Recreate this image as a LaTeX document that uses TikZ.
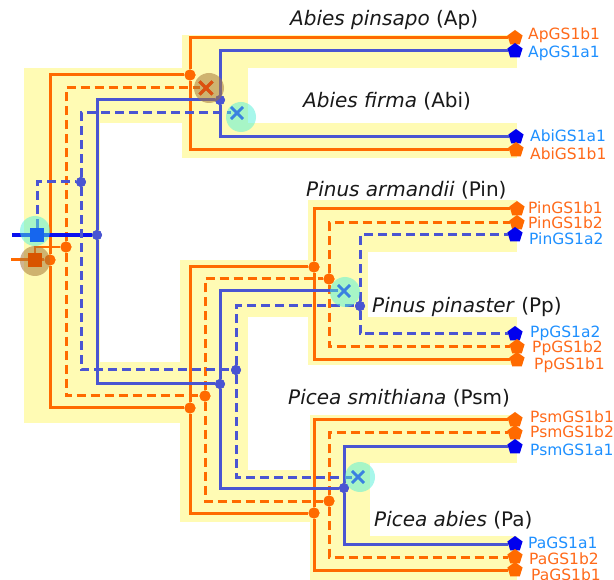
\documentclass[tikz,border=0pt]{standalone}
\usepackage{fontspec}
\setmainfont{DejaVu Sans}
\usetikzlibrary{shapes.geometric,shapes.misc}
\definecolor{tubey}{HTML}{FFFBB4}
\definecolor{orng}{HTML}{FF6A00}
\definecolor{blu}{HTML}{4A55D2}
\definecolor{olabc}{HTML}{FF6A1A}
\definecolor{blabc}{HTML}{1E90FF}
\definecolor{bleafc}{HTML}{0000EE}
\definecolor{rootblue}{HTML}{0A10EE}
\definecolor{sqblue}{HTML}{1666EE}
\definecolor{sqorng}{HTML}{D85400}
\definecolor{halob}{HTML}{A87838}
\definecolor{haloc}{HTML}{50F0D8}
\definecolor{xblue}{HTML}{3C80E0}
\definecolor{xorng}{HTML}{DD5010}
\tikzset{
  tube/.style={fill=tubey, draw=none},
  osolid/.style={draw=orng, line width=3pt},
  odash/.style={osolid, dash pattern=on 9pt off 5pt},
  bsolid/.style={draw=blu, line width=3pt},
  bdash/.style={bsolid, dash pattern=on 9pt off 5pt},
  odot/.style={circle, fill=orng, inner sep=0pt, minimum size=11pt},
  bdot/.style={circle, fill=blu, inner sep=0pt, minimum size=10pt},
  oleaf/.style={regular polygon, regular polygon sides=5, fill=orng, inner sep=0pt, minimum size=16pt},
  bleaf/.style={regular polygon, regular polygon sides=5, fill=bleafc, inner sep=0pt, minimum size=16pt},
  oloss/.style={cross out, draw=xorng, line width=3pt, inner sep=0pt, minimum size=10pt},
  bloss/.style={cross out, draw=xblue, line width=2.8pt, inner sep=0pt, minimum size=9pt},
  ohalo/.style={fill=halob, opacity=.55},
  chalo/.style={fill=haloc, opacity=.5},
  olabel/.style={text=olabc, font=\fontsize{15.5}{18}\selectfont, anchor=west, inner sep=0pt},
  blabel/.style={text=blabc, font=\fontsize{15.5}{18}\selectfont, anchor=west, inner sep=0pt},
  spec/.style={text=black!90, font=\fontsize{20}{24}\selectfont, anchor=west, inner sep=0pt},
  osquare/.style={rectangle, fill=sqorng, inner sep=0pt, minimum size=14pt},
  bsquare/.style={rectangle, fill=sqblue, inner sep=0pt, minimum size=14pt}
}
\begin{document}
\begin{tikzpicture}[x=1pt,y=-1pt]
\useasboundingbox[fill=white] (0,0) rectangle (614,580);
% species tree tubes
\fill[tube] (24,68) rectangle (100,423);
\fill[tube] (99,68) rectangle (183,123);
\fill[tube] (182,35) rectangle (248,158);
\fill[tube] (247,35) rectangle (517,68);
\fill[tube] (247,123) rectangle (517,158);
\fill[tube] (99,362) rectangle (181,423);
\fill[tube] (180,260) rectangle (248,522);
\fill[tube] (247,260) rectangle (309,317);
\fill[tube] (308,200) rectangle (368,365);
\fill[tube] (367,200) rectangle (517,252);
\fill[tube] (367,317) rectangle (517,365);
\fill[tube] (247,470) rectangle (311,522);
\fill[tube] (310,415) rectangle (370,580);
\fill[tube] (369,415) rectangle (517,463);
\fill[tube] (369,536) rectangle (517,580);

% species labels
\node[spec] (spAp) at (290,20) {\textit{Abies pinsapo} (Ap)};
\node[spec] (spAbi) at (303,101) {\textit{Abies firma} (Abi)};
\node[spec] (spPin) at (306,190) {\textit{Pinus armandii} (Pin)};
\node[spec] (spPp) at (372,307) {\textit{Pinus pinaster} (Pp)};
\node[spec] (spPsm) at (288,398) {\textit{Picea smithiana} (Psm)};
\node[spec] (spPa) at (374,520) {\textit{Picea abies} (Pa)};

% gene tree nodes
\coordinate (bstart) at (12,235);
\coordinate (ostart) at (11,260);
\node[bsquare] (bsq) at (37,235) {};
\node[osquare] (osq) at (35,260) {};
\node[odot] (Rb1) at (50,260) {};
\node[odot] (Rb2) at (66,247) {};
\node[bdot] (Ra1) at (97,235) {};
\node[bdot] (Ra2) at (81,182) {};

\node[odot] (Ab1) at (190,75) {};
\node[oloss] (Ab2) at (206,88) {};
\node[bdot] (Aa1) at (220,100) {};
\node[bloss] (Aa2) at (237,113) {};

\node[odot] (PPb1) at (190,408) {};
\node[odot] (PPb2) at (205,396) {};
\node[bdot] (PPa1) at (220,384) {};
\node[bdot] (PPa2) at (236,370) {};

\node[odot] (Pinb1) at (314,267) {};
\node[odot] (Pinb2) at (329,279) {};
\node[bloss] (Pina1) at (344,291) {};
\node[bdot] (Pina2) at (360,306) {};

\node[odot] (Picb1) at (314,513) {};
\node[odot] (Picb2) at (329,501) {};
\node[bdot] (Pica1) at (344,488) {};
\node[bloss] (Pica2) at (358,477) {};

% leaves
\node[oleaf] (ApGSbI) at (515,38) {};
\node[bleaf] (ApGSaI) at (515,51) {};
\node[bleaf] (AbiGSaI) at (516,137) {};
\node[oleaf] (AbiGSbI) at (516,150) {};
\node[oleaf] (PinGSbI) at (517,209) {};
\node[oleaf] (PinGSbII) at (517,223) {};
\node[bleaf] (PinGSaII) at (515,235) {};
\node[bleaf] (PpGSaII) at (515,334) {};
\node[oleaf] (PpGSbII) at (517,347) {};
\node[oleaf] (PpGSbI) at (517,360) {};
\node[oleaf] (PsmGSbI) at (515,420) {};
\node[oleaf] (PsmGSbII) at (515,433) {};
\node[bleaf] (PsmGSaI) at (515,447) {};
\node[bleaf] (PaGSaI) at (515,544) {};
\node[oleaf] (PaGSbII) at (515,557) {};
\node[oleaf] (PaGSbI) at (515,570) {};

% connectors: orange solid b1
\draw[osolid] (ostart) -- (osq);
\draw[osolid] (osq) -- (Rb1);
\draw[orng, line width=2pt] (osq) |- (Rb2);
\draw[osolid] (Rb1) |- (Ab1);
\draw[osolid] (Rb1) |- (PPb1);
\draw[osolid] (Ab1) |- (ApGSbI);
\draw[osolid] (Ab1) |- (AbiGSbI);
\draw[osolid] (PPb1) |- (Pinb1);
\draw[osolid] (PPb1) |- (Picb1);
\draw[osolid] (Pinb1) |- (PinGSbI);
\draw[osolid] (Pinb1) |- (PpGSbI);
\draw[osolid] (Picb1) |- (PsmGSbI);
\draw[osolid] (Picb1) |- (PaGSbI);
% orange dashed b2
\draw[odash] (Rb2) |- (Ab2);
\draw[odash] (Rb2) |- (PPb2);
\draw[odash] (PPb2) |- (Pinb2);
\draw[odash] (PPb2) |- (Picb2);
\draw[odash] (Pinb2) |- (PinGSbII);
\draw[odash] (Pinb2) |- (PpGSbII);
\draw[odash] (Picb2) |- (PsmGSbII);
\draw[odash] (Picb2) |- (PaGSbII);
% blue solid a1
\draw[rootblue, line width=4pt] (bstart) -- (bsq);
\draw[rootblue, line width=4pt] (bsq) -- (Ra1);
\draw[bsolid] (Ra1) |- (Aa1);
\draw[bsolid] (Ra1) |- (PPa1);
\draw[bsolid] (Aa1) |- (ApGSaI);
\draw[bsolid] (Aa1) |- (AbiGSaI);
\draw[bsolid] (PPa1) |- (Pina1);
\draw[bsolid] (PPa1) |- (Pica1);
\draw[bsolid] (Pica1) |- (PsmGSaI);
\draw[bsolid] (Pica1) |- (PaGSaI);
% blue dashed a2
\draw[bdash] (bsq) |- (Ra2);
\draw[bdash] (Ra2) |- (Aa2);
\draw[bdash] (Ra2) |- (PPa2);
\draw[bdash] (PPa2) |- (Pina2);
\draw[bdash] (PPa2) |- (Pica2);
\draw[bdash] (Pina2) |- (PinGSaII);
\draw[bdash] (Pina2) |- (PpGSaII);

% dots redrawn on top
\foreach \n in {Rb1,Rb2,Ab1,PPb1,PPb2,Pinb1,Pinb2,Picb1,Picb2}
  \fill[orng] (\n) circle (5.5pt);
\foreach \n in {Ra1,Ra2,Aa1,PPa1,PPa2,Pina2,Pica1}
  \fill[blu] (\n) circle (5pt);

% halos
\fill[chalo] (35,231) circle (15pt);
\fill[ohalo] (35,261) circle (15pt);
\fill[ohalo] (209,88) circle (15pt);
\fill[chalo] (241,117) circle (15pt);
\fill[chalo] (345,292) circle (15pt);
\fill[chalo] (360,477) circle (15pt);

% markers on top
\node[bsquare] at (bsq) {};
\node[osquare] at (osq) {};
\node[oloss] at (Ab2) {};
\node[bloss] at (Aa2) {};
\node[bloss] at (Pina1) {};
\node[bloss] at (Pica2) {};

% leaf labels
\node[olabel] (lApGSbI) at (528,35) {ApGS1b1};
\node[blabel] (lApGSaI) at (528,53) {ApGS1a1};
\node[blabel] (lAbiGSaI) at (530,136) {AbiGS1a1};
\node[olabel] (lAbiGSbI) at (530,154) {AbiGS1b1};
\node[olabel] (lPinGSbI) at (528,208) {PinGS1b1};
\node[olabel] (lPinGSbII) at (528,223) {PinGS1b2};
\node[blabel] (lPinGSaII) at (529,239) {PinGS1a2};
\node[blabel] (lPpGSaII) at (530,333) {PpGS1a2};
\node[olabel] (lPpGSbII) at (532,348) {PpGS1b2};
\node[olabel] (lPpGSbI) at (534,365) {PpGS1b1};
\node[olabel] (lPsmGSbI) at (530,417) {PsmGS1b1};
\node[olabel] (lPsmGSbII) at (530,432) {PsmGS1b2};
\node[blabel] (lPsmGSaI) at (530,450) {PsmGS1a1};
\node[blabel] (lPaGSaI) at (528,543) {PaGS1a1};
\node[olabel] (lPaGSbII) at (529,559) {PaGS1b2};
\node[olabel] (lPaGSbI) at (531,575) {PaGS1b1};
\end{tikzpicture}
\end{document}
